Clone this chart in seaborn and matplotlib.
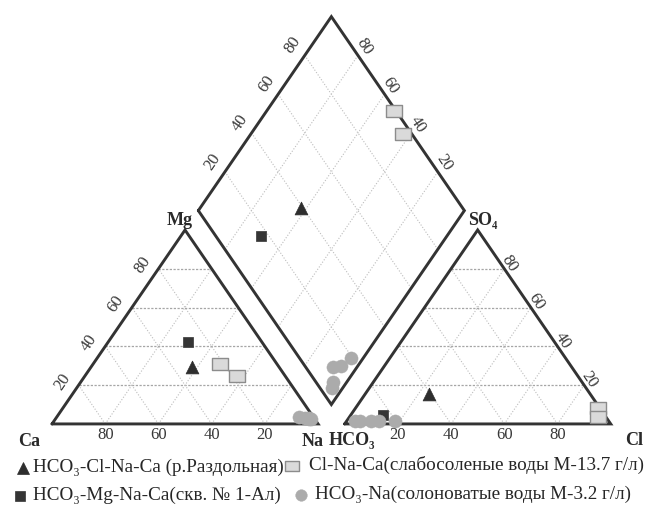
import numpy as np
import pandas as pd
import seaborn as sns
import matplotlib
matplotlib.use("Agg")
import matplotlib.pyplot as plt
from matplotlib.lines import Line2D
from matplotlib.path import Path

# ---------------- data ----------------
series_names = [
    "HCO₃-Cl-Na-Ca (р.Раздольная)",
    "HCO₃-Mg-Na-Ca(скв. № 1-Ал)",
    "Cl-Na-Ca(слабосоленые воды М-13.7 г/л)",
    "HCO₃-Na(солоноватые воды М-3.2 г/л)",
]
sample_series = [0, 1, 2, 2, 3, 3, 3, 3, 3]
ca = [32.8, 27.7, 21.4, 18.2, 5.5, 3.5, 2.0, 2.0, 1.5]
mg = [29.3, 42.4, 30.9, 24.6, 3.5, 3.0, 3.0, 2.5, 2.5]
na = [37.9, 29.9, 47.7, 57.2, 91.0, 93.5, 95.0, 95.5, 96.0]
hco3 = [60.6, 83.1, 0.7, 3.1, 89.5, 86.5, 93.5, 80.5, 95.5]
so4 = [15.2, 4.7, 8.3, 3.6, 1.5, 1.5, 1.5, 1.5, 1.5]
cl = [24.2, 12.2, 91.0, 93.3, 9.0, 12.0, 5.0, 18.0, 3.0]
grid_ticks = [20, 40, 60, 80]

# ---------------- geometry ----------------
GAP = 10.0
H = np.sqrt(3) / 2


def cat_xy(n, m):
    return np.asarray(n) + np.asarray(m) / 2, np.asarray(m) * H


def an_xy(c, s):
    return 100 + GAP + np.asarray(c) + np.asarray(s) / 2, np.asarray(s) * H


def dia_xy(n, a):
    n = np.asarray(n); a = np.asarray(a)
    return (100 + GAP) / 2 + (n + a) / 2, H * (100 + GAP + a - n)


df = pd.DataFrame({"series": [series_names[i] for i in sample_series],
                   "ca": ca, "mg": mg, "na": na, "hco3": hco3, "so4": so4, "cl": cl})
cx, cy = cat_xy(df.na, df.mg)
ax_, ay_ = an_xy(df.cl, df.so4)
dx, dy = dia_xy(df.na, df.so4 + df.cl)
pts = pd.concat([
    pd.DataFrame({"x": cx, "y": cy, "series": df.series}),
    pd.DataFrame({"x": ax_, "y": ay_, "series": df.series}),
    pd.DataFrame({"x": dx, "y": dy, "series": df.series}),
], ignore_index=True)

rect = Path([(-1, -0.78), (1, -0.78), (1, 0.78), (-1, 0.78), (-1, -0.78)],
            [Path.MOVETO, Path.LINETO, Path.LINETO, Path.LINETO, Path.CLOSEPOLY])
styles = {
    series_names[0]: dict(marker="^", color="#2e2e2e", edgecolor="#2e2e2e", s=85, lw=0.5),
    series_names[1]: dict(marker="s", color="#353535", edgecolor="#353535", s=62, lw=0.5),
    series_names[2]: dict(marker=rect, color="#dadada", edgecolor="#8c8c8c", s=120, lw=1.0),
    series_names[3]: dict(marker="o", color="#ababab", edgecolor="#ababab", s=90, lw=0.3),
}

# ---------------- figure ----------------
sns.set_theme(style="white")
plt.rcParams["font.family"] = ["Liberation Serif", "DejaVu Serif"]
W, HGT = 653, 505
fig = plt.figure(figsize=(W / 100, HGT / 100), dpi=100)
ax = fig.add_axes([0, 0, 1, 1])
ax.set_xlim(-19.55, 225.9)
ax.set_ylim(-36.2, 189.3)
ax.axis("off")

edge_c = "#333333"
grid_kw = dict(color="#bdbdbd", lw=0.8, ls=(0, (1.0, 1.6)), zorder=1)
hgrid_kw = dict(color="#a6a6a6", lw=0.9, ls=(0, (1.8, 1.2)), zorder=1)
edge_kw = dict(color=edge_c, lw=2.1, zorder=2, solid_joinstyle="miter")

# left triangle
for v in grid_ticks:
    x0, y0 = cat_xy(0, v); x1, y1 = cat_xy(100 - v, v)
    ax.plot([x0, x1], [y0, y1], **hgrid_kw)
    x0, y0 = cat_xy(v, 0); x1, y1 = cat_xy(v, 100 - v)
    ax.plot([x0, x1], [y0, y1], **grid_kw)
    x0, y0 = cat_xy(100 - v, 0); x1, y1 = cat_xy(0, 100 - v)
    ax.plot([x0, x1], [y0, y1], **grid_kw)
tx, ty = cat_xy([0, 100, 0, 0], [0, 0, 100, 0])
ax.plot(tx, ty, **edge_kw)

# right triangle
for v in grid_ticks:
    x0, y0 = an_xy(0, v); x1, y1 = an_xy(100 - v, v)
    ax.plot([x0, x1], [y0, y1], **hgrid_kw)
    x0, y0 = an_xy(v, 0); x1, y1 = an_xy(v, 100 - v)
    ax.plot([x0, x1], [y0, y1], **grid_kw)
    x0, y0 = an_xy(100 - v, 0); x1, y1 = an_xy(0, 100 - v)
    ax.plot([x0, x1], [y0, y1], **grid_kw)
tx, ty = an_xy([0, 100, 0, 0], [0, 0, 100, 0])
ax.plot(tx, ty, **edge_kw)

# diamond
for v in grid_ticks:
    x0, y0 = dia_xy(0, v); x1, y1 = dia_xy(100, v)
    ax.plot([x0, x1], [y0, y1], **grid_kw)
    x0, y0 = dia_xy(v, 0); x1, y1 = dia_xy(v, 100)
    ax.plot([x0, x1], [y0, y1], **grid_kw)
tx, ty = dia_xy([0, 0, 100, 100, 0], [0, 100, 100, 0, 0])
ax.plot(tx, ty, **edge_kw)

# points
for name in series_names:
    st = styles[name]
    sub = pts[pts.series == name]
    sns.scatterplot(data=sub, x="x", y="y", ax=ax, marker=st["marker"], color=st["color"],
                    edgecolor=st["edgecolor"], s=st["s"], linewidth=st["lw"], zorder=4, legend=False)
ax.set_xlabel(""); ax.set_ylabel("")

# tick labels
tk = dict(fontsize=12, color="#383838", ha="center", va="center", zorder=5)
for v in grid_ticks:
    ax.text(100 - v, -4.9, str(v), **tk)
    ax.text(100 + GAP + v, -4.9, str(v), **tk)
    x, y = cat_xy(0, v)
    ax.text(x - 6.0, y + 1.6, str(v), rotation=56, **tk)
    x, y = an_xy(100 - v, v)
    ax.text(x + 1.9, y + 2.5, str(v), rotation=-56, **tk)
    x, y = dia_xy(0, v)
    ax.text(x - 4.5, y + 4.5, str(v), rotation=56, **tk)
    x, y = dia_xy(100 - v, 100)
    ax.text(x + 2.3, y + 3.9, str(v), rotation=-56, **tk)

lab = dict(fontsize=13, fontweight="bold", color="#2a2a2a", ha="center", va="center", zorder=5)
ax.text(-8.6, -8.0, "Ca", **lab)
ax.text(98.1, -8.0, "Na", **lab)
ax.text(112.6, -7.6, "HCO₃", **lab)
ax.text(218.8, -7.6, "Cl", **lab)
ax.text(48.1, 91.0, "Mg", **lab)
ax.text(161.8, 91.0, "SO₄", **lab)

# legend (two rows, placed in figure pixels)
legend_rows = [
    (0, 23, 33, 468, 472), (2, 292, 309, 466, 470),
    (1, 20, 33, 496, 500), (3, 301, 315, 495, 499),
]
for idx, mx, tx_, my, base in legend_rows:
    name = series_names[idx]
    st = styles[name]
    fig.add_artist(Line2D([mx / W], [1 - my / HGT], transform=fig.transFigure, ls="none",
                          marker=st["marker"], markerfacecolor=st["color"],
                          markeredgecolor=st["edgecolor"], markeredgewidth=st["lw"],
                          markersize=np.sqrt(st["s"]) * 0.88))
    fig.text(tx_ / W, 1 - base / HGT, name, fontsize=13.8, color="#262626",
             ha="left", va="baseline")

fig.savefig("out.png", dpi=100)
